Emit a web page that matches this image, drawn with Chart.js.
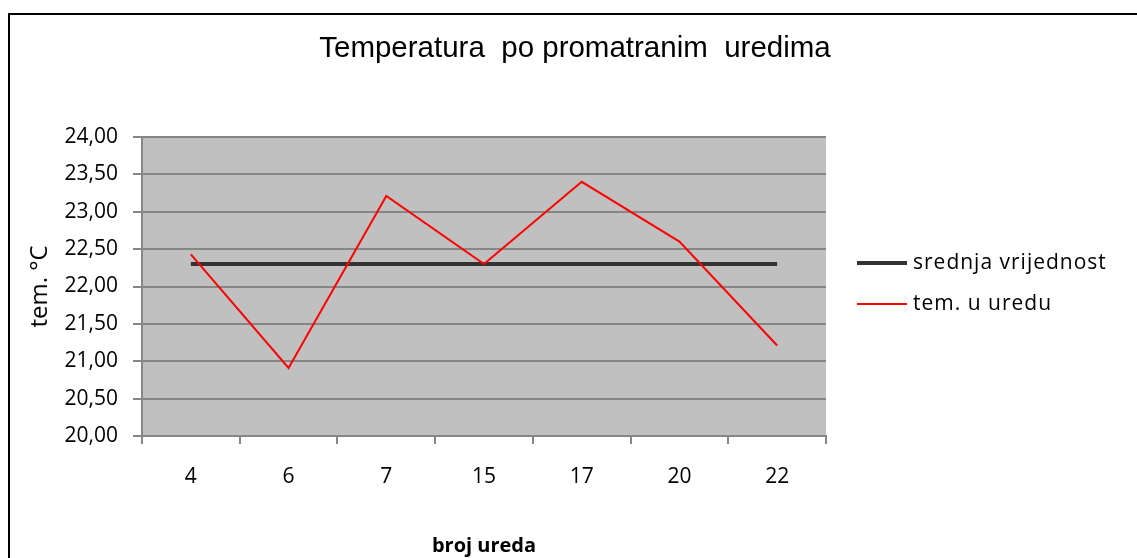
<!DOCTYPE html>
<html>
<head>
<meta charset="utf-8">
<script src="https://cdn.jsdelivr.net/npm/chart.js@4.4.1/dist/chart.umd.min.js"></script>
<style>
  html, body { margin: 0; padding: 0; background: #fff; }
  #wrap { width: 1137px; height: 558px; }
</style>
</head>
<body>
<div id="wrap"><canvas id="myChart" width="1137" height="558"></canvas></div>
<script>
// podaci grafa
var naslov = 'Temperatura  po promatranim  uredima';
var uredi = ['4', '6', '7', '15', '17', '20', '22'];
var temUredu = [22.43, 20.91, 23.21, 22.30, 23.40, 22.60, 21.21];
var srednja = [22.30, 22.30, 22.30, 22.30, 22.30, 22.30, 22.30];
var yTicks = [20.00, 20.50, 21.00, 21.50, 22.00, 22.50, 23.00, 23.50, 24.00];

var fontTxt = '"Open Sans", sans-serif';

// siva pozadina, okvir, naslov i legenda
var pozadina = {
  id: 'pozadina',
  beforeDraw: function (chart) {
    var c = chart.ctx, a = chart.chartArea;
    c.save();
    c.fillStyle = '#c0c0c0';
    c.fillRect(a.left, a.top, a.right - a.left, a.bottom - a.top);
    c.restore();
  },
  afterDraw: function (chart) {
    var c = chart.ctx;
    c.save();
    c.strokeStyle = '#000';
    c.lineWidth = 2;
    c.beginPath();
    c.moveTo(9, 600);
    c.lineTo(9, 14);
    c.lineTo(1137, 14);
    c.stroke();

    // naslov
    c.font = '29.5px "Liberation Sans", Arial, sans-serif';
    c.fillStyle = '#000';
    c.textAlign = 'center';
    c.textBaseline = 'alphabetic';
    c.fillText(naslov, 575, 57);

    // legenda desno
    var redY = [263, 304];
    c.font = '21px ' + fontTxt;
    c.letterSpacing = '1px';
    c.textAlign = 'left';
    c.textBaseline = 'middle';
    chart.data.datasets.forEach(function (ds, i) {
      c.strokeStyle = ds.borderColor;
      c.lineWidth = ds.borderWidth;
      c.beginPath();
      c.moveTo(857, redY[i]);
      c.lineTo(907, redY[i]);
      c.stroke();
      c.fillText(ds.label, 913, redY[i]);
    });
    c.restore();
  }
};

Chart.defaults.color = '#000';

var ctx = document.getElementById('myChart').getContext('2d');
var myChart = new Chart(ctx, {
  type: 'line',
  data: {
    labels: uredi,
    datasets: [{
      label: 'srednja vrijednost',
      data: srednja,
      borderColor: '#333333',
      backgroundColor: '#333333',
      borderWidth: 4,
      pointRadius: 0,
      tension: 0,
      order: 1
    }, {
      label: 'tem. u uredu',
      data: temUredu,
      borderColor: '#ff0000',
      backgroundColor: '#ff0000',
      borderWidth: 2,
      pointRadius: 0,
      tension: 0,
      order: 0
    }]
  },
  options: {
    responsive: false,
    animation: false,
    layout: { padding: { left: 26, right: 311, top: 137, bottom: 0 } },
    plugins: {
      title: { display: false },
      legend: { display: false },
      tooltip: { enabled: false }
    },
    scales: {
      x: {
        offset: true,
        afterFit: function (s) { s.height = 122; },
        grid: {
          offset: true,
          drawOnChartArea: false,
          drawTicks: true,
          tickLength: 8,
          color: '#868686',
          lineWidth: 2
        },
        border: { color: '#868686', width: 2 },
        ticks: { padding: 20, font: { family: fontTxt, size: 21 }, color: '#000', maxRotation: 0 },
        title: {
          display: true,
          text: 'broj ureda',
          font: { family: fontTxt, size: 20, weight: 'bold' },
          color: '#000',
          padding: { top: 20, bottom: 0 }
        }
      },
      y: {
        min: yTicks[0],
        max: yTicks[yTicks.length - 1],
        afterFit: function (s) { s.width = 116; },
        afterBuildTicks: function (axis) {
          axis.ticks = yTicks.map(function (v) { return { value: v }; });
        },
        grid: {
          color: '#868686',
          lineWidth: 2,
          tickLength: 9
        },
        border: { color: '#868686', width: 2 },
        ticks: {
          padding: 15,
          font: { family: fontTxt, size: 21 },
          color: '#000',
          callback: function (v) { return Number(v).toFixed(2).replace('.', ','); }
        },
        title: {
          display: true,
          text: 'tem. °C',
          font: { family: fontTxt, size: 24 },
          color: '#000',
          padding: { top: 0, bottom: 4 }
        }
      }
    }
  },
  plugins: [pozadina]
});
</script>
</body>
</html>
